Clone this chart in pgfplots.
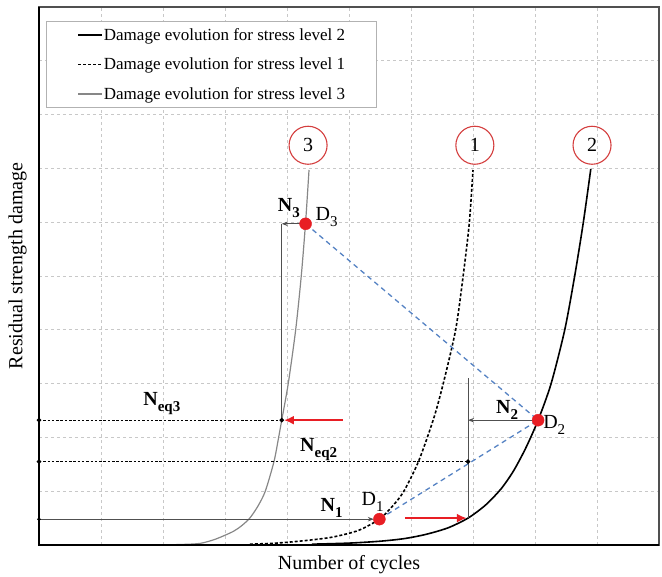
\documentclass[border=0pt]{standalone}
\usepackage{fontspec}
\setmainfont{Liberation Serif}
\usepackage{pgfplots}
\pgfplotsset{compat=1.18}
\usetikzlibrary{arrows.meta}

\definecolor{gridgray}{RGB}{200,200,200}
\definecolor{curvegray}{RGB}{135,135,135}
\definecolor{annogray}{RGB}{80,80,80}
\definecolor{dotred}{RGB}{232,30,36}
\definecolor{circred}{RGB}{212,62,62}
\definecolor{pathblue}{RGB}{85,130,195}

% damage curves: (cycles, residual strength damage)
\pgfplotstableread{
x y
2.00 0.003
2.30 0.010
2.60 0.030
2.85 0.110
3.13 0.250
3.27 0.360
3.40 0.500
3.53 0.720
3.65 1.000
3.79 1.550
3.865 2.000
3.915 2.320
4.02 3.000
4.14 4.000
4.23 5.000
4.30 6.000
4.355 6.970
}\levelthree
\pgfplotstableread{
x y
3.40 0.015
3.75 0.030
4.05 0.055
4.40 0.095
4.75 0.150
5.15 0.270
5.49 0.480
5.70 0.720
5.88 0.990
6.12 1.550
6.36 2.330
6.52 3.000
6.72 4.000
6.84 4.990
6.94 5.980
7.00 6.970
}\levelone
\pgfplotstableread{
x y
4.40 0.015
5.00 0.035
5.50 0.070
5.90 0.120
6.25 0.200
6.60 0.320
6.92 0.500
7.20 0.740
7.45 1.040
7.65 1.370
7.85 1.800
8.05 2.320
8.26 3.000
8.48 4.000
8.64 5.000
8.78 6.000
8.90 6.990
}\leveltwo

\newcommand{\lbl}{\fontsize{20}{24}\selectfont}
\newcommand{\sub}[1]{\raisebox{-6pt}{\fontsize{15}{15}\selectfont #1}}

\begin{document}
\begin{tikzpicture}
\useasboundingbox (0,0) rectangle (662pt,577pt);
\begin{axis}[
  at={(39pt,32pt)}, anchor=south west,
  scale only axis, width=620pt, height=538pt,
  xmin=0, xmax=10, ymin=0, ymax=10,
  xtick={1,...,9}, ytick={1,...,9},
  xticklabels={}, yticklabels={},
  major tick length=0pt,
  grid=major,
  major grid style={gridgray, line width=0.8pt, dash pattern=on 3pt off 3pt},
  axis line style={annogray, line width=1.2pt},
  clip=false,
  xlabel={Number of cycles},
  ylabel={Residual strength damage},
  label style={font=\lbl},
  xlabel style={at={(axis description cs:0.5,-0.0186)}, anchor=north, inner sep=0pt},
  ylabel style={at={(axis description cs:-0.0194,0.519)}, anchor=south, inner sep=0pt},
  legend style={at={(axis description cs:0.0113,0.974)}, anchor=north west,
    draw=gray!60, line width=0.6pt, fill=white,
    font=\fontsize{17}{20}\selectfont,
    inner xsep=31pt, inner ysep=7pt, row sep=16pt, column sep=1pt,
    nodes={inner sep=0pt}},
  legend cell align=left,
  legend image code/.code={\draw[#1] (0pt,0pt) -- (24pt,0pt);},
]

% damage evolution curves
\addplot[black, line width=1.6pt, smooth, tension=0.45] table {\leveltwo};
\addlegendentry{Damage evolution for stress level 2}
\addplot[black, line width=1.6pt, dash pattern=on 3pt off 2pt, smooth, tension=0.45] table {\levelone};
\addlegendentry{Damage evolution for stress level 1}
\addplot[curvegray, line width=1.2pt, smooth, tension=0.45] table {\levelthree};
\addlegendentry{Damage evolution for stress level 3}

% equivalent-cycle levels
\addplot[black, line width=1.2pt, dash pattern=on 2.5pt off 1.8pt, mark=*, mark size=1.6pt,
  mark options={solid}, forget plot] coordinates {(0,2.32) (3.915,2.32)};
\addplot[black, line width=1.2pt, dash pattern=on 2.5pt off 1.8pt, mark=*, mark size=1.6pt,
  mark options={solid}, forget plot] coordinates {(0,1.55) (6.92,1.55)};

% cycle count arrows
\addplot[annogray, line width=1pt, -{Stealth[length=6pt,width=4.5pt]}, forget plot]
  coordinates {(0,0.48) (5.40,0.48)};
\addplot[only marks, mark=*, mark size=1.6pt, black, forget plot] coordinates {(0,0.48)};
\addplot[annogray, line width=1pt, -{Stealth[length=6pt,width=4.5pt]}, forget plot]
  coordinates {(8.05,2.32) (6.92,2.32)};
\addplot[annogray, line width=1pt, forget plot] coordinates {(6.92,0.50) (6.92,3.10)};
\addplot[annogray, line width=1pt, -{Stealth[length=6pt,width=4.5pt]}, forget plot]
  coordinates {(4.30,5.97) (3.915,5.97)};
\addplot[annogray, line width=1pt, forget plot] coordinates {(3.915,5.97) (3.915,2.32)};

% loading path between stress levels
\addplot[pathblue, line width=1.3pt, dash pattern=on 5pt off 4pt, forget plot]
  coordinates {(4.30,5.97) (8.05,2.32) (5.49,0.48)};

% transfer arrows
\addplot[dotred, line width=2.6pt, -{Latex[length=10pt,width=9pt]}, forget plot]
  coordinates {(4.90,2.32) (3.95,2.32)};
\addplot[dotred, line width=2.6pt, -{Latex[length=10pt,width=9pt]}, forget plot]
  coordinates {(5.90,0.50) (6.90,0.50)};

% damage states
\addplot[only marks, mark=*, mark size=6pt, dotred, forget plot]
  coordinates {(5.49,0.48) (8.05,2.32) (4.30,5.97)};

% curve numbers
\node[draw=circred, circle, line width=1.1pt, minimum size=38pt, inner sep=0pt, font=\lbl]
  at (axis cs:4.34,7.43) {3};
\node[draw=circred, circle, line width=1.1pt, minimum size=38pt, inner sep=0pt, font=\lbl]
  at (axis cs:7.03,7.43) {1};
\node[draw=circred, circle, line width=1.1pt, minimum size=38pt, inner sep=0pt, font=\lbl]
  at (axis cs:8.92,7.43) {2};

% labels
\node[anchor=base east, inner sep=0pt, font=\lbl] at (axis cs:4.21,6.19) {\textbf{N}\sub{\textbf{3}}};
\node[anchor=base west, inner sep=0pt, font=\lbl] at (axis cs:4.46,6.04) {D\sub{3}};
\node[anchor=base west, inner sep=0pt, font=\lbl] at (axis cs:1.68,2.60) {\textbf{N}\sub{\textbf{eq3}}};
\node[anchor=base west, inner sep=0pt, font=\lbl] at (axis cs:4.21,1.73) {\textbf{N}\sub{\textbf{eq2}}};
\node[anchor=base west, inner sep=0pt, font=\lbl] at (axis cs:4.54,0.63) {\textbf{N}\sub{\textbf{1}}};
\node[anchor=base west, inner sep=0pt, font=\lbl] at (axis cs:5.20,0.74) {D\sub{1}};
\node[anchor=base west, inner sep=0pt, font=\lbl] at (axis cs:7.37,2.45) {\textbf{N}\sub{\textbf{2}}};
\node[anchor=base west, inner sep=0pt, font=\lbl] at (axis cs:8.13,2.17) {D\sub{2}};

% heavier frame on the lower and left sides
\draw[black, line width=1.6pt] (axis cs:0,10) -- (axis cs:0,0) -- (axis cs:10,0);
\end{axis}
\end{tikzpicture}
\end{document}
